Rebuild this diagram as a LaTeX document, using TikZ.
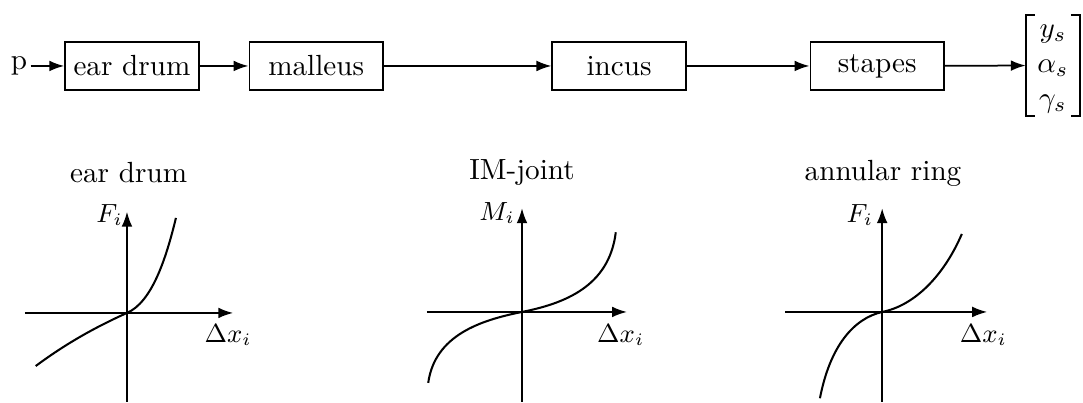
\documentclass[tikz,border=0pt]{standalone}
\usepackage{amsmath}
\usetikzlibrary{arrows.meta,positioning}

\begin{document}
\begin{tikzpicture}[
    font=\normalsize,
    >=latex,
]

\tikzset{
    block_node/.style = {rectangle, minimum width=1.61cm, minimum height=0.58cm,
                         text centered, inner sep=0pt, draw=black, line width=0.6pt},
    arrow/.style = {line width=0.6pt, -{Latex[length=1.8mm, width=1.3mm]}},
    axis/.style = {line width=0.6pt, -{Latex[length=1.8mm, width=1.3mm]}},
    curve/.style = {line width=0.7pt},
    bracket/.style = {line width=0.6pt},
    label_node/.style = {font=\small, inner sep=1pt}
}

\useasboundingbox (0,0) rectangle (13.05,4.855);

% =========== SIGNAL CHAIN ===========
\node[inner ysep=-0.8pt, inner xsep=0pt, minimum width=0.64cm, anchor=west] (out_vec) at (12.36, 4.066)
    {$\begin{array}{@{}c@{}} y_s\\ \alpha_s\\ \gamma_s \end{array}$};
\node[inner sep=1pt] (p_in) at (0.23, 4.06) {p};
\node[block_node] (eardrum) at (1.59, 4.06) {ear drum};
\node[block_node] (malleus) at (3.81, 4.06) {malleus};
\node[block_node] (incus) at (7.46, 4.06) {incus};
\node[block_node] (stapes) at (10.57, 4.06) {stapes};

% brackets round the output vector
\draw[bracket] ([xshift=0.11cm]out_vec.north west) -- (out_vec.north west)
    -- (out_vec.south west) -- ([xshift=0.11cm]out_vec.south west);
\draw[bracket] ([xshift=-0.11cm]out_vec.north east) -- (out_vec.north east)
    -- (out_vec.south east) -- ([xshift=-0.11cm]out_vec.south east);

% Arrows for chain
\draw[arrow] (p_in) -- (eardrum);
\draw[arrow] (eardrum) -- (malleus);
\draw[arrow] (malleus) -- (incus);
\draw[arrow] (incus) -- (stapes);
\draw[arrow] (stapes) -- (out_vec);

% =========== EAR DRUM ===========
\node (eardrum_title) at (1.55, 2.77) {ear drum};
\begin{scope}[shift={(1.53,1.084)}]
    \draw[axis] (-1.23,0) -- (1.28,0);
    \draw[axis] (0,-1.07) -- (0,1.22);
    \node[label_node] (fi_ed) at (-0.21, 1.18) {$F_i$};
    \node[label_node] (dx_ed) at (1.22, -0.27) {$\Delta x_i$};
    \draw[curve] (-1.10,-0.64) .. controls (-0.75,-0.38) and (-0.4,-0.18) .. (0,0)
                 .. controls (0.3,0.13) and (0.47,0.65) .. (0.59,1.145);
\end{scope}

% =========== IM-JOINT ===========
\node (imjoint_title) at (6.29, 2.77) {IM-joint};
\begin{scope}[shift={(6.29,1.096)}]
    \draw[axis] (-1.145,0) -- (1.265,0);
    \draw[axis] (0,-1.08) -- (0,1.25);
    \node[label_node] (mi_im) at (-0.3, 1.19) {$M_i$};
    \node[label_node] (dx_im) at (1.19, -0.28) {$\Delta x_i$};
    \draw[curve] (-1.13,-0.855) .. controls (-1.05,-0.28) and (-0.5,-0.1) .. (0,0)
                 .. controls (0.5,0.1) and (1.05,0.3) .. (1.13,0.96);
\end{scope}

% =========== ANNULAR RING ===========
\node (ring_title) at (10.64, 2.77) {annular ring};
\begin{scope}[shift={(10.63,1.096)}]
    \draw[axis] (-1.17,0) -- (1.265,0);
    \draw[axis] (0,-1.08) -- (0,1.25);
    \node[label_node] (fi_ar) at (-0.27, 1.17) {$F_i$};
    \node[label_node] (dx_ar) at (1.22, -0.28) {$\Delta x_i$};
    \draw[curve] (-0.75,-1.04) .. controls (-0.63,-0.42) and (-0.35,-0.08) .. (0,0)
                 .. controls (0.4,0.08) and (0.75,0.45) .. (0.96,0.94);
\end{scope}

\end{tikzpicture}
\end{document}
